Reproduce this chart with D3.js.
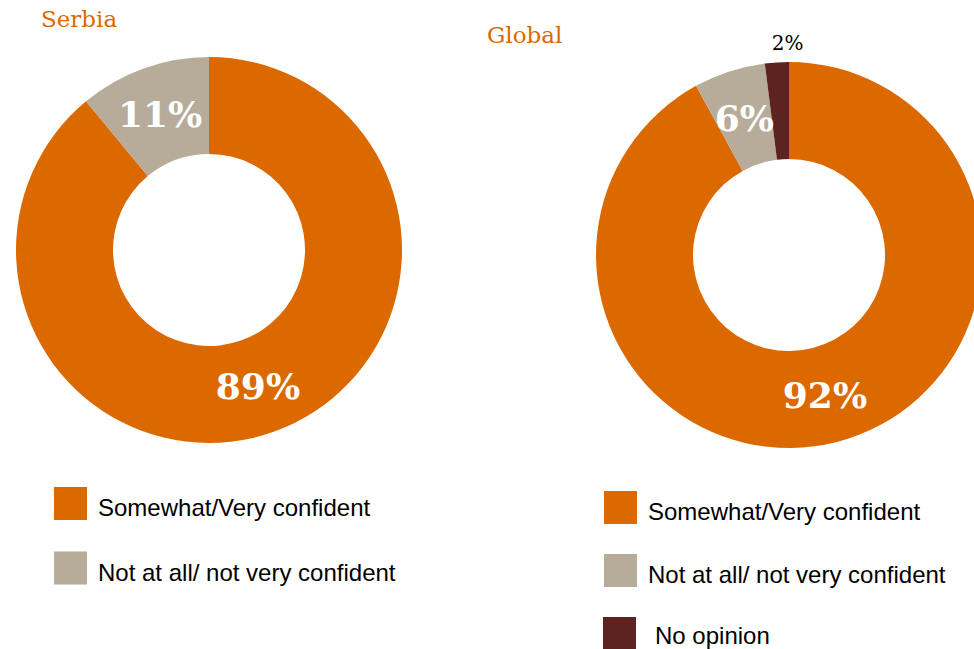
<!DOCTYPE html>
<html>
<head>
<meta charset="utf-8">
<script src="https://cdn.jsdelivr.net/npm/d3@7"></script>
<style>
  html, body { margin: 0; padding: 0; background: #ffffff; }
  svg { display: block; }
</style>
</head>
<body>
<svg id="chart" width="974" height="649"></svg>
<script>
// Survey answers, in percent
const regions = ["Serbia", "Global"];
const categories = ["Somewhat/Very confident", "Not at all/ not very confident", "No opinion"];
const serbiaValues = [89, 11];
const globalValues = [92, 6, 2];
const categoryColors = ["#DC6900", "#B6AC99", "#5C2320"];

const svg = d3.select("#chart");
const serif = "Georgia, 'DejaVu Serif', serif";
const sans = "Arial, 'Liberation Sans', sans-serif";

const outerR = 193, innerR = 96;
const color = d3.scaleOrdinal().domain(categories).range(categoryColors);

const pie = d3.pie().sort(null).value(d => d.value);
const arc = d3.arc().innerRadius(innerR).outerRadius(outerR);

const panels = [
  { name: regions[0], values: serbiaValues, cx: 209, cy: 250,
    title: { x: 41, y: 27 },
    legend: { x: 54, y: 487, step: 64.5, textX: 98, nudge: [0, 0] } },
  { name: regions[1], values: globalValues, cx: 789, cy: 255,
    title: { x: 487, y: 43 },
    legend: { x: 604, y: 491, step: 63, textX: 648, nudge: [0, 0, 7] } }
];

panels.forEach(p => {
  const data = p.values.map((v, i) => ({ category: categories[i], value: v }));
  const arcs = pie(data);

  svg.append("text")
    .attr("x", p.title.x).attr("y", p.title.y)
    .attr("font-family", serif).attr("font-size", 23)
    .attr("fill", "#DC6900")
    .text(p.name);

  const g = svg.append("g").attr("transform", `translate(${p.cx},${p.cy})`);

  g.selectAll("path").data(arcs).join("path")
    .attr("d", arc)
    .attr("fill", d => color(d.data.category));

  // Large slices carry their value inside the ring; thin ones get it above
  arcs.forEach(d => {
    const share = d.data.value;
    if (share >= 5) {
      const [x, y] = arc.centroid(d);
      g.append("text")
        .attr("x", x).attr("y", y)
        .attr("text-anchor", "middle")
        .attr("dominant-baseline", "central")
        .attr("font-family", serif).attr("font-weight", "bold")
        .attr("font-size", 36)
        .attr("fill", "#ffffff")
        .text(share + "%");
    } else {
      const mid = (d.startAngle + d.endAngle) / 2;
      const r = outerR + 19;
      g.append("text")
        .attr("x", r * Math.sin(mid) + 12)
        .attr("y", -r * Math.cos(mid))
        .attr("text-anchor", "middle")
        .attr("dominant-baseline", "central")
        .attr("font-family", serif)
        .attr("font-size", 20)
        .attr("fill", "#000000")
        .text(share + "%");
    }
  });

  // Legend
  const lg = svg.append("g");
  data.forEach((d, i) => {
    const y = p.legend.y + i * p.legend.step;
    lg.append("rect")
      .attr("x", p.legend.x - (i === 2 ? 1 : 0)).attr("y", y)
      .attr("width", 33).attr("height", 33)
      .attr("fill", color(d.category));
    lg.append("text")
      .attr("x", p.legend.textX + p.legend.nudge[i]).attr("y", y + (i === 2 ? 27 : 29))
      .attr("font-family", sans).attr("font-size", 24)
      .attr("fill", "#000000")
      .text(d.category);
  });
});
</script>
</body>
</html>
